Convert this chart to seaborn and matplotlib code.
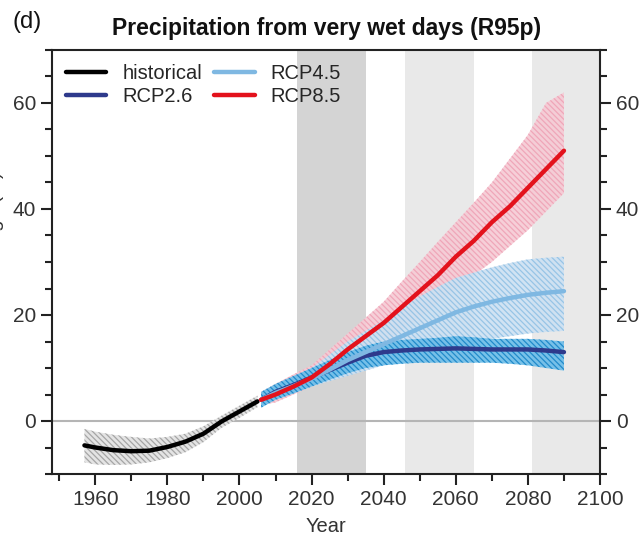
import numpy as np
import pandas as pd
import matplotlib
matplotlib.use("Agg")
import matplotlib.pyplot as plt
from matplotlib.ticker import MultipleLocator
from matplotlib.lines import Line2D
import seaborn as sns

sns.set_style("ticks")
plt.rcParams['font.family'] = ['Liberation Sans', 'DejaVu Sans']
plt.rcParams['hatch.linewidth'] = 0.9

# ---- data ----
hist_years = [1957, 1960, 1965, 1970, 1975, 1980, 1985, 1990, 1995, 2000, 2005]
hist_mean = [-4.6, -5.0, -5.5, -5.7, -5.6, -4.9, -3.9, -2.4, -0.1, 1.8, 3.7]
hist_lo = [-7.8, -8.2, -8.3, -8.2, -7.8, -7.0, -5.9, -4.0, -1.3, 0.6, 2.6]
hist_hi = [-1.5, -2.0, -2.6, -3.0, -3.3, -3.0, -2.4, -1.0, 1.0, 2.9, 4.8]

rcp_years = [2006, 2010, 2015, 2020, 2025, 2030, 2035, 2040, 2045, 2050,
             2055, 2060, 2065, 2070, 2075, 2080, 2085, 2090]
rcp26_mean = [4.0, 5.5, 6.8, 8.2, 9.6, 11.0, 12.3, 13.0, 13.3, 13.5,
              13.6, 13.7, 13.6, 13.5, 13.5, 13.5, 13.3, 13.0]
rcp26_lo = [2.5, 4.0, 5.2, 6.5, 7.8, 9.0, 10.0, 10.5, 10.8, 11.0,
            11.0, 11.0, 11.0, 11.0, 10.8, 10.5, 10.0, 9.5]
rcp26_hi = [5.5, 7.0, 8.5, 10.0, 11.5, 13.0, 14.2, 15.0, 15.3, 15.5,
            15.7, 16.0, 15.8, 15.5, 15.5, 15.5, 15.3, 15.0]
rcp45_mean = [4.0, 5.3, 6.6, 8.0, 9.7, 11.5, 13.0, 14.5, 16.0, 17.5,
              19.0, 20.5, 21.6, 22.5, 23.2, 23.8, 24.2, 24.5]
rcp45_lo = [3.0, 4.0, 5.2, 6.5, 7.5, 8.5, 9.5, 10.5, 11.5, 12.5,
            13.3, 14.0, 14.8, 15.5, 16.0, 16.5, 16.8, 17.0]
rcp45_hi = [5.0, 6.5, 8.2, 10.0, 12.5, 15.0, 17.0, 19.0, 21.3, 23.5,
            25.3, 27.0, 28.0, 29.0, 29.8, 30.5, 30.8, 31.0]
rcp85_mean = [4.0, 5.0, 6.5, 8.2, 10.7, 13.5, 16.0, 18.5, 21.5, 24.5,
              27.5, 31.0, 34.0, 37.5, 40.5, 44.0, 47.5, 51.0]
rcp85_lo = [3.0, 3.5, 5.0, 6.5, 8.5, 10.5, 12.5, 14.5, 17.0, 19.5,
            22.2, 25.0, 27.5, 30.0, 33.0, 36.0, 39.5, 43.0]
rcp85_hi = [5.5, 7.0, 8.8, 10.5, 13.5, 16.5, 19.5, 22.5, 26.3, 30.0,
            33.8, 37.5, 41.2, 45.0, 49.5, 54.0, 60.0, 62.0]

periods = [(2016, 2035, '#d4d4d4'), (2046, 2065, '#e9e9e9'), (2081, 2100, '#e9e9e9')]
series_names = ['historical', 'RCP2.6', 'RCP4.5', 'RCP8.5']
colors = {'historical': '#000000', 'RCP2.6': '#2e3a8c',
          'RCP4.5': '#7fb8e2', 'RCP8.5': '#e3121c'}

df = pd.concat([
    pd.DataFrame({'Year': hist_years, 'value': hist_mean, 'series': 'historical'}),
    pd.DataFrame({'Year': rcp_years, 'value': rcp26_mean, 'series': 'RCP2.6'}),
    pd.DataFrame({'Year': rcp_years, 'value': rcp45_mean, 'series': 'RCP4.5'}),
    pd.DataFrame({'Year': rcp_years, 'value': rcp85_mean, 'series': 'RCP8.5'}),
], ignore_index=True)

fig = plt.figure(figsize=(6.43, 5.36), dpi=100)
ax = fig.add_axes([52/643, 1-474/536, 548/643, 424/536])

for x0, x1, c in periods:
    ax.axvspan(x0, x1, color=c, lw=0, zorder=0)
ax.axhline(0, color='#b5b5b5', lw=1.5, zorder=1)

bands = [
    (hist_years, hist_lo, hist_hi, '#e2e2e2', '#a0a0a0'),
    (rcp_years, rcp85_lo, rcp85_hi, '#f6cbd5', '#efa3b6'),
    (rcp_years, rcp45_lo, rcp45_hi, '#cde1f2', '#92c2e5'),
    (rcp_years, rcp26_lo, rcp26_hi, '#6dbde8', '#1a86c8'),
]
for xs, lo, hi, fc, ec in bands:
    ax.fill_between(xs, lo, hi, facecolor=fc, edgecolor=ec, hatch='\\\\\\\\\\\\',
                    lw=0, zorder=2, alpha=0.92)

sns.lineplot(data=df, x='Year', y='value', hue='series', hue_order=series_names,
             palette=colors, linewidth=3.2, ax=ax, zorder=3, legend=False)

handles = [Line2D([], [], color=colors[s], lw=3.2) for s in series_names]
ax.legend(handles, series_names, ncol=2, loc='upper left', frameon=False,
          fontsize=14.5, handlelength=2.0, handletextpad=0.8, columnspacing=0.6,
          labelspacing=0.2, borderaxespad=0.3, bbox_to_anchor=(0.0, 1.0))

ax.set_xlim(1948, 2100)
ax.set_ylim(-10, 70)
ax.xaxis.set_major_locator(MultipleLocator(20))
ax.xaxis.set_minor_locator(MultipleLocator(10))
ax.yaxis.set_minor_locator(MultipleLocator(5))
ax.set_yticks([0, 20, 40, 60])
ax.tick_params(axis='both', which='major', direction='out', length=8, width=1.5,
               labelsize=15, colors='#222222', labelcolor='#333333')
ax.tick_params(axis='both', which='minor', direction='out', length=5, width=1.5,
               colors='#222222')
ax.tick_params(axis='y', which='both', right=True, labelright=True)
ax.tick_params(axis='x', which='both', top=False)
for sp in ax.spines.values():
    sp.set_visible(True)
    sp.set_linewidth(1.5)
    sp.set_color('#222222')

ax.set_xlabel('Year', fontsize=14.5, color='#333333', labelpad=6)
ax.set_ylabel('Relative change (%)', fontsize=14.5, color='#333333')
ax.yaxis.set_label_coords(-0.087, 0.5)

fig.text(327/643, 1-28/536, 'Precipitation from very wet days (R95p)',
         ha='center', va='center', fontsize=16.5, fontweight='bold', color='#111111')
fig.text(12/643, 1-22/536, '(d)', ha='left', va='center', fontsize=17, color='#111111')

fig.savefig('out.png', dpi=100)
